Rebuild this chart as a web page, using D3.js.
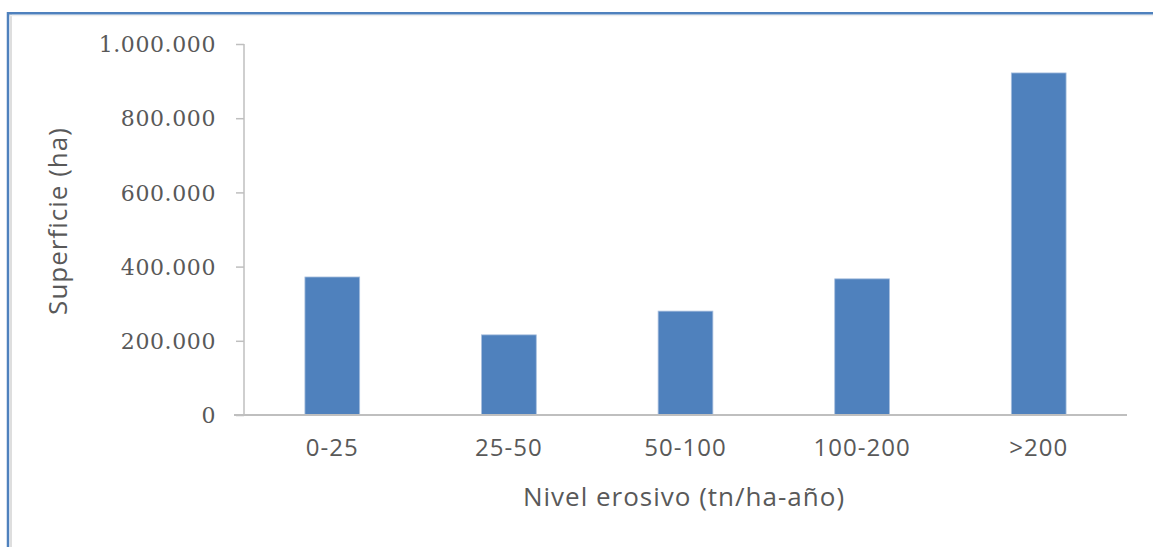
<!DOCTYPE html>
<html>
<head>
<meta charset="utf-8">
<script src="https://cdn.jsdelivr.net/npm/d3@7"></script>
<style>
  html, body { margin: 0; padding: 0; background: #fff; }
  svg { display: block; }
</style>
</head>
<body>
<svg id="chart" width="1153" height="547"></svg>
<script>
// Superficie por nivel erosivo
const categories = ["0-25", "25-50", "50-100", "100-200", ">200"];
const superficie = [372000, 216000, 280000, 367000, 922000];
const yTicks = [0, 200000, 400000, 600000, 800000, 1000000];

const svg = d3.select("#chart");
const W = 1153, H = 547;
const plot = { left: 244, right: 1127, top: 44, bottom: 415 };

// frame
svg.append("line").attr("x1", 11).attr("x2", 11).attr("y1", 14).attr("y2", H)
  .attr("stroke", "#dedede").attr("stroke-width", 2);
svg.append("line").attr("x1", 8).attr("x2", W).attr("y1", 15.5).attr("y2", 15.5)
  .attr("stroke", "#eeeeee").attr("stroke-width", 1.5);
svg.append("line").attr("x1", 8).attr("x2", 8).attr("y1", 12).attr("y2", H)
  .attr("stroke", "#4f81bd").attr("stroke-width", 2.5);
svg.append("line").attr("x1", 7).attr("x2", W).attr("y1", 13.3).attr("y2", 13.3)
  .attr("stroke", "#4f81bd").attr("stroke-width", 2.5);

const x = d3.scaleBand().domain(categories)
  .range([plot.left, plot.right]).paddingInner(0.69).paddingOuter(0.345);
const y = d3.scaleLinear().domain([0, 1000000]).range([plot.bottom, plot.top]);

const fmt = v => d3.format(",")(v).replace(/,/g, ".");

// y axis
const yAxis = svg.append("g").attr("transform", `translate(${plot.left},0)`)
  .call(d3.axisLeft(y).tickValues(yTicks).tickFormat(fmt).tickSize(8).tickPadding(20));
yAxis.select(".domain").attr("stroke", "#bfbfbf").attr("stroke-width", 1.5)
  .attr("d", `M0,${plot.top}V${plot.bottom}`);
yAxis.selectAll(".tick line").attr("stroke", "#bfbfbf").attr("stroke-width", 1.5);
yAxis.selectAll(".tick text")
  .attr("font-family", "'DejaVu Serif', serif").attr("font-size", 22)
  .attr("letter-spacing", "0.6px").attr("fill", "#595959").attr("dy", "0.35em");

// bars
svg.append("g").selectAll("rect").data(categories).join("rect")
  .attr("x", d => x(d))
  .attr("width", x.bandwidth())
  .attr("y", (d, i) => y(superficie[i]))
  .attr("height", (d, i) => y(0) - y(superficie[i]))
  .attr("fill", "#4f81bd")
  .attr("stroke", "#a7bfde").attr("stroke-width", 0.8);

// x axis
const xAxis = svg.append("g").attr("transform", `translate(0,${plot.bottom})`)
  .call(d3.axisBottom(x).tickSize(0).tickPadding(24));
xAxis.select(".domain").attr("stroke", "#bfbfbf").attr("stroke-width", 2)
  .attr("d", `M${plot.left - 10},0H${plot.right}`);
xAxis.selectAll(".tick text")
  .attr("font-family", "'Open Sans', sans-serif").attr("font-size", 24)
  .attr("letter-spacing", "1px").attr("fill", "#595959");

// axis titles
svg.append("text").attr("x", 684).attr("y", 506).attr("text-anchor", "middle")
  .attr("font-family", "'Open Sans', sans-serif").attr("font-size", 26)
  .attr("letter-spacing", "1px")
  .attr("fill", "#595959").text("Nivel erosivo (tn/ha-año)");
svg.append("text").attr("transform", "translate(67,221) rotate(-90)")
  .attr("text-anchor", "middle")
  .attr("font-family", "'Open Sans', sans-serif").attr("font-size", 26)
  .attr("letter-spacing", "1px")
  .attr("fill", "#595959").text("Superficie (ha)");
</script>
</body>
</html>
